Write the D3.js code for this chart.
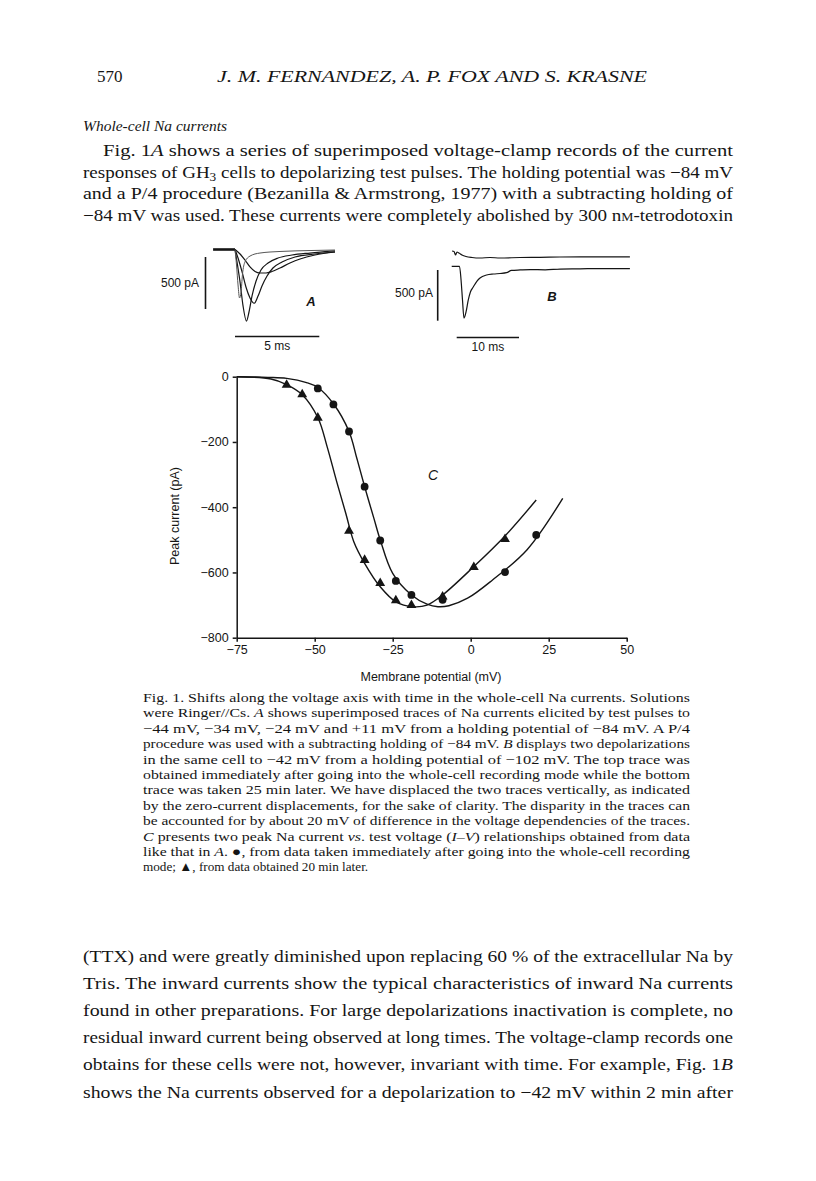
<!DOCTYPE html>
<html>
<head>
<meta charset="utf-8">
<script src="https://cdn.jsdelivr.net/npm/d3@7"></script>
<style>
body { margin: 0; background: #fff; }
svg { display: block; background: #fff; }
.serif { font-family: "Liberation Serif", "DejaVu Serif", serif; fill: #151515; }
.sans { font-family: "Liberation Sans", Arial, sans-serif; fill: #151515; }
.axis path, .axis line { stroke: #151515; stroke-width: 1.5; }
.axis text { font-family: "Liberation Sans", Arial, sans-serif; font-size: 12.5px; fill: #151515; }
.trace { fill: none; stroke: #151515; stroke-width: 1.2; }
.fit { fill: none; stroke: #151515; stroke-width: 1.4; }
</style>
</head>
<body>
<svg width="816" height="1181"></svg>
<script>
// C: peak current vs membrane potential
const tickV = [-75, -50, -25, 0, 25, 50];
const tickI = [0, -200, -400, -600, -800];

const circleV = [-49, -44, -39, -34, -29, -24, -19, -9, 11, 21];
const circleI = [-36, -85, -168, -337, -502, -626, -669, -684, -599, -485];
const triV = [-59, -54, -49, -39, -34, -29, -24, -19, -9, 1, 11];
const triI = [-25, -54, -126, -473, -562, -633, -686, -700, -674, -584, -498];

// drawn fit curves
const circleFitV = [-75, -65, -59, -52.6, -49, -44, -39, -36.5, -34, -31, -29, -25, -19, -14, -10.5, -7, -1, 7, 18, 29.5];
const circleFitI = [0, -2, -5, -18, -33, -83, -168, -250, -337, -435, -500, -603, -669, -697, -705, -702, -679, -623, -531, -373];
const triFitV = [-75, -64, -59, -54, -49, -46, -43, -40, -37.5, -34, -29, -24, -18.5, -14, -9, 1, 11, 21];
const triFitI = [0, -7, -24, -55, -125, -215, -320, -420, -505, -572, -644, -690, -705, -700, -669, -582, -488, -378];

// A: superimposed traces (ms, pA)
const aBaseT = [-1.3, 0];
const aBaseI = [0, 0];
const aTime44 = [0, 0.3, 0.59, 0.89, 1.19, 1.48, 1.84, 2.19, 2.67, 3.26, 3.86, 4.74, 5.93];
const aCurr44 = [0, -43, -101, -168, -212, -226, -226, -212, -178, -130, -91, -53, -24];
const aTime34 = [0, 0.18, 0.42, 0.65, 0.89, 1.14, 1.36, 1.6, 1.9, 2.25, 2.79, 3.56, 4.74, 5.93];
const aCurr34 = [0, -82, -216, -361, -466, -517, -450, -351, -255, -178, -120, -72, -43, -24];
const aTime24 = [0, 0.12, 0.3, 0.47, 0.68, 0.83, 1.01, 1.25, 1.54, 1.96, 2.55, 3.38, 4.45, 5.93];
const aCurr24 = [0, -120, -313, -534, -688, -601, -447, -303, -197, -130, -82, -53, -34, -14];
const aTime11 = [0, 0.09, 0.18, 0.27, 0.36, 0.44, 0.59, 0.89, 1.48, 2.67, 4.45, 5.93];
const aCurr11 = [0, -149, -341, -466, -409, -245, -120, -63, -34, -19, -10, -5];

// B: two depolarizations to -42 mV (ms, pA)
const bTimeTop = [-0.75, -0.43, -0.19, 0.05, 0.37, 0.85, 1.49, 2.46, 3.74, 5.35, 6.95, 10.16, 13.37, 16.58, 21.4, 27.8];
const bCurrTop = [0, -5, -39, -10, -20, -39, -54, -64, -69, -64, -69, -64, -62, -59, -57, -57];
const bTimeBot = [-0.8, 0.45, 0.7, 0.93, 1.17, 1.5, 1.86, 2.2, 2.66, 3.26, 3.74, 4.8, 5.9, 6.95, 8.0, 8.8, 10.2, 11.8, 14.2, 16.6, 19.8, 23.0, 27.8];
const bCurrBot = [0, 0, -135, -332, -512, -450, -332, -253, -204, -145, -115, -86, -76, -71, -63, -41, -36, -32, -35, -27, -25, -22, -22];

// page text
const bodyTop = [
    "Fig. 1*A* shows a series of superimposed voltage-clamp records of the current",
    "responses of GH_3_ cells to depolarizing test pulses. The holding potential was \u221284 mV",
    "and a P/4 procedure (Bezanilla & Armstrong, 1977) with a subtracting holding of",
    "\u221284 mV was used. These currents were completely abolished by 300 n^M^-tetrodotoxin"
];
const caption = [
    "Fig. 1. Shifts along the voltage axis with time in the whole-cell Na currents. Solutions",
    "were Ringer//Cs. *A* shows superimposed traces of Na currents elicited by test pulses to",
    "\u221244 mV, \u221234 mV, \u221224 mV and +11 mV from a holding potential of \u221284 mV. A P/4",
    "procedure was used with a subtracting holding of \u221284 mV. *B* displays two depolarizations",
    "in the same cell to \u221242 mV from a holding potential of \u2212102 mV. The top trace was",
    "obtained immediately after going into the whole-cell recording mode while the bottom",
    "trace was taken 25 min later. We have displaced the two traces vertically, as indicated",
    "by the zero-current displacements, for the sake of clarity. The disparity in the traces can",
    "be accounted for by about 20 mV of difference in the voltage dependencies of the traces.",
    "*C* presents two peak Na current *vs*. test voltage (*I\u2013V*) relationships obtained from data",
    "like that in *A*. \u25CF, from data taken immediately after going into the whole-cell recording",
    "mode; \u25B2, from data obtained 20 min later."
];
const bodyBottom = [
    "(TTX) and were greatly diminished upon replacing 60 % of the extracellular Na by",
    "Tris. The inward currents show the typical characteristics of inward Na currents",
    "found in other preparations. For large depolarizations inactivation is complete, no",
    "residual inward current being observed at long times. The voltage-clamp records one",
    "obtains for these cells were not, however, invariant with time. For example, Fig. 1*B*",
    "shows the Na currents observed for a depolarization to \u221242 mV within 2 min after"
];

const svg = d3.select("svg");

// *italic*, _subscript_, ^small caps^
const richLine = (sel, str, x, y, w, size, italic) => {
    const t = sel.append("text")
        .attr("class", "serif")
        .attr("x", x).attr("y", y)
        .style("font-size", size + "px")
        .style("font-style", italic ? "italic" : null);
    if (w) t.attr("textLength", w).attr("lengthAdjust", "spacingAndGlyphs");
    let shift = 0;
    str.split(/(\*[^*]+\*|_[^_]+_|\^[^^]+\^)/).filter(s => s).forEach(s => {
        let ts;
        if (s[0] === "*") {
            ts = t.append("tspan").style("font-style", "italic").text(s.slice(1, -1));
        } else if (s[0] === "_") {
            ts = t.append("tspan").attr("dy", 3).style("font-size", (size * 0.7) + "px").text(s.slice(1, -1));
            shift = 3;
            return;
        } else if (s[0] === "^") {
            ts = t.append("tspan").style("font-size", (size * 0.72) + "px").text(s.slice(1, -1));
        } else {
            ts = t.append("tspan").text(s);
        }
        if (shift) { ts.attr("dy", -shift); shift = 0; }
    });
    return t;
};

// header
richLine(svg, "570", 97, 82, 0, 17);
richLine(svg, "J. M. FERNANDEZ, A. P. FOX AND S. KRASNE", 217, 82, 430, 17, true);
richLine(svg, "Whole-cell Na currents", 83, 131, 0, 15.5, true);

bodyTop.forEach((s, i) => {
    richLine(svg, s, i === 0 ? 103 : 83, 156 + i * 21.6, i === 0 ? 630 : 650, 16.5);
});

caption.forEach((s, i) => {
    const last = i === caption.length - 1;
    richLine(svg, s, 143, 702 + i * 15.4, last ? 0 : 547, 13.2);
});

bodyBottom.forEach((s, i) => {
    richLine(svg, s, 83, 962 + i * 27.1, 650, 16.5);
});

// ---- panel A ----
const xA = d3.scaleLinear().domain([0, 5]).range([235, 319.3]);
const yA = d3.scaleLinear().domain([0, -500]).range([249.5, 301.5]);
const lineA = d3.line().x(d => xA(d[0])).y(d => yA(d[1])).curve(d3.curveMonotoneX);
const zipA = (t, c) => t.map((d, i) => [d, c[i]]);

const gA = svg.append("g");
gA.append("path").attr("class", "trace").style("stroke-width", 2.6)
    .attr("d", lineA(zipA(aBaseT, aBaseI)));
[[aTime44, aCurr44], [aTime34, aCurr34], [aTime24, aCurr24]].forEach(p => {
    gA.append("path").attr("class", "trace").attr("d", lineA(zipA(p[0], p[1])));
});
gA.append("path").attr("class", "trace")
    .style("stroke", "#555").style("stroke-width", 1)
    .attr("d", lineA(zipA(aTime11, aCurr11)));

// scale bars A
gA.append("line").attr("stroke", "#151515").attr("stroke-width", 1.6)
    .attr("x1", 205.5).attr("x2", 205.5)
    .attr("y1", 257).attr("y2", 257 + yA(-500) - yA(0));
gA.append("line").attr("stroke", "#151515").attr("stroke-width", 1.6)
    .attr("x1", xA(0)).attr("x2", xA(5)).attr("y1", 336.5).attr("y2", 336.5);
gA.append("text").attr("class", "sans").attr("x", 199).attr("y", 287)
    .attr("text-anchor", "end").style("font-size", "12px").text("500 pA");
gA.append("text").attr("class", "sans").attr("x", (xA(0) + xA(5)) / 2).attr("y", 350)
    .attr("text-anchor", "middle").style("font-size", "12px").text("5 ms");
gA.append("text").attr("class", "sans").attr("x", 311).attr("y", 306)
    .attr("text-anchor", "middle").style("font-size", "13px")
    .style("font-style", "italic").style("font-weight", "bold").text("A");

// ---- panel B ----
const xB = d3.scaleLinear().domain([0, 10]).range([456.7, 519]);
const yB = d3.scaleLinear().domain([0, -500]).range([251, 301.7]);
const bBottomShift = -151;
const lineB = d3.line().x(d => xB(d[0])).y(d => yB(d[1])).curve(d3.curveMonotoneX);

const gB = svg.append("g");
gB.append("path").attr("class", "trace")
    .attr("d", lineB(bTimeTop.map((d, i) => [d, bCurrTop[i]])));
gB.append("path").attr("class", "trace")
    .attr("d", lineB(bTimeBot.map((d, i) => [d, bCurrBot[i] + bBottomShift])));

gB.append("line").attr("stroke", "#151515").attr("stroke-width", 1.6)
    .attr("x1", 437.7).attr("x2", 437.7)
    .attr("y1", 270).attr("y2", 270 + yB(-500) - yB(0));
gB.append("line").attr("stroke", "#151515").attr("stroke-width", 1.6)
    .attr("x1", xB(0)).attr("x2", xB(10)).attr("y1", 337.5).attr("y2", 337.5);
gB.append("text").attr("class", "sans").attr("x", 433).attr("y", 297)
    .attr("text-anchor", "end").style("font-size", "12px").text("500 pA");
gB.append("text").attr("class", "sans").attr("x", (xB(0) + xB(10)) / 2).attr("y", 351)
    .attr("text-anchor", "middle").style("font-size", "12px").text("10 ms");
gB.append("text").attr("class", "sans").attr("x", 552).attr("y", 301)
    .attr("text-anchor", "middle").style("font-size", "13px")
    .style("font-style", "italic").style("font-weight", "bold").text("B");

// ---- panel C ----
const xC = d3.scaleLinear().domain([-75, 50]).range([236.7, 626.7]);
const yC = d3.scaleLinear().domain([-800, 0]).range([637.7, 376.7]);

const gC = svg.append("g");
gC.append("g").attr("class", "axis")
    .attr("transform", "translate(0," + yC(-800) + ")")
    .call(d3.axisBottom(xC).tickValues(tickV).tickSize(4).tickSizeOuter(0).tickPadding(3));
gC.append("g").attr("class", "axis")
    .attr("transform", "translate(" + xC(-75) + ",0)")
    .call(d3.axisLeft(yC).tickValues(tickI).tickSize(4).tickSizeOuter(0).tickPadding(4));

gC.append("text").attr("class", "sans")
    .attr("transform", "translate(179," + 516 + ") rotate(-90)")
    .attr("text-anchor", "middle").style("font-size", "12.5px").text("Peak current (pA)");
gC.append("text").attr("class", "sans").attr("x", 431).attr("y", 681)
    .attr("text-anchor", "middle").style("font-size", "12.5px").text("Membrane potential (mV)");
gC.append("text").attr("class", "sans").attr("x", 433).attr("y", 480)
    .attr("text-anchor", "middle").style("font-size", "14px").style("font-style", "italic").text("C");

const lineC = d3.line().x(d => xC(d[0])).y(d => yC(d[1])).curve(d3.curveCatmullRom.alpha(0.5));
gC.append("path").attr("class", "fit").attr("d", lineC(circleFitV.map((d, i) => [d, circleFitI[i]])));
gC.append("path").attr("class", "fit").attr("d", lineC(triFitV.map((d, i) => [d, triFitI[i]])));

gC.append("g").selectAll("circle")
    .data(circleV.map((d, i) => ({v: d, i: circleI[i]})))
    .enter().append("circle")
    .attr("cx", d => xC(d.v)).attr("cy", d => yC(d.i))
    .attr("r", 3.9).attr("fill", "#151515");

const tri = d3.symbol(d3.symbolTriangle, 42);
gC.append("g").selectAll("path")
    .data(triV.map((d, i) => ({v: d, i: triI[i]})))
    .enter().append("path")
    .attr("d", tri)
    .attr("transform", d => "translate(" + xC(d.v) + "," + yC(d.i) + ")")
    .attr("fill", "#151515");
</script>
</body>
</html>
